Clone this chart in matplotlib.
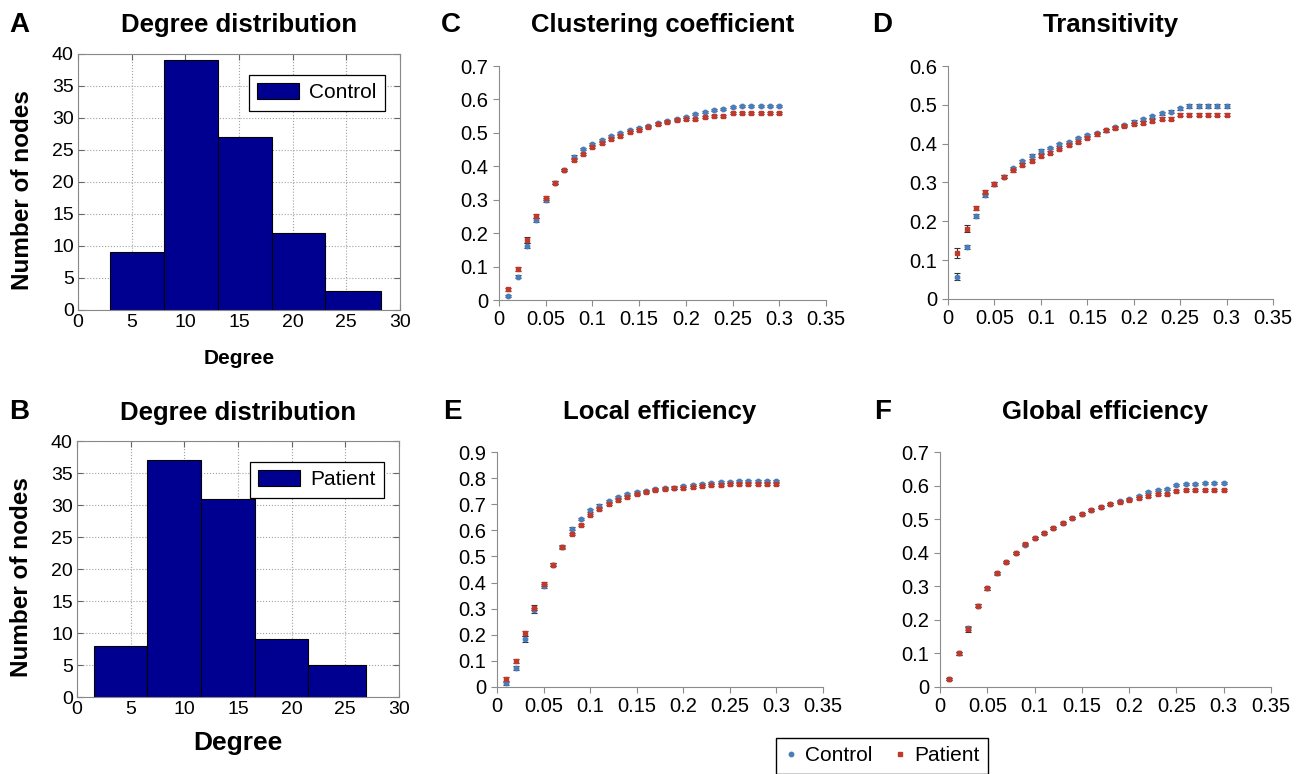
import numpy as np
import matplotlib
matplotlib.use("Agg")
import matplotlib.pyplot as plt
from matplotlib.ticker import FuncFormatter, MultipleLocator
from matplotlib.lines import Line2D

plt.rcParams['font.family'] = ['Liberation Sans', 'DejaVu Sans']

# ヒストグラム（次数分布）
ctrl_edges = [3.0, 8.05, 13.05, 18.05, 23.05, 28.2]
ctrl_counts = [9, 39, 27, 12, 3]
pat_edges = [1.55, 6.55, 11.55, 16.6, 21.55, 26.9]
pat_counts = [8, 37, 31, 9, 5]

# 閾値（スパース度）
thr = [0.01, 0.02, 0.03, 0.04, 0.05, 0.06, 0.07, 0.08, 0.09, 0.10,
       0.11, 0.12, 0.13, 0.14, 0.15, 0.16, 0.17, 0.18, 0.19, 0.20,
       0.21, 0.22, 0.23, 0.24, 0.25, 0.26, 0.27, 0.28, 0.29, 0.30]

# C: Clustering coefficient
clus_ctrl = [0.012, 0.070, 0.163, 0.239, 0.299, 0.351, 0.389, 0.429, 0.452, 0.467,
             0.479, 0.491, 0.500, 0.510, 0.516, 0.522, 0.528, 0.535, 0.542, 0.548,
             0.556, 0.563, 0.568, 0.571, 0.576, 0.579, 0.579, 0.580, 0.580, 0.580]
clus_pat = [0.032, 0.092, 0.179, 0.251, 0.305, 0.351, 0.389, 0.419, 0.436, 0.457,
            0.471, 0.483, 0.491, 0.502, 0.510, 0.518, 0.526, 0.533, 0.538, 0.540,
            0.542, 0.548, 0.550, 0.550, 0.560, 0.560, 0.560, 0.560, 0.560, 0.560]
clus_ctrl_err = [0.004, 0.005, 0.007, 0.006, 0.005, 0.004, 0.004, 0.004, 0.003, 0.003,
                 0.003, 0.003, 0.003, 0.003, 0.003, 0.003, 0.003, 0.003, 0.003, 0.003,
                 0.003, 0.003, 0.003, 0.003, 0.003, 0.003, 0.003, 0.003, 0.003, 0.003]
clus_pat_err = [0.005, 0.006, 0.009, 0.006, 0.005, 0.004, 0.004, 0.004, 0.003, 0.003,
                0.003, 0.003, 0.003, 0.003, 0.003, 0.003, 0.003, 0.003, 0.003, 0.003,
                0.003, 0.003, 0.003, 0.003, 0.003, 0.003, 0.003, 0.003, 0.003, 0.003]

# D: Transitivity
trans_ctrl = [0.057, 0.134, 0.214, 0.267, 0.296, 0.315, 0.337, 0.355, 0.369, 0.381,
              0.389, 0.398, 0.405, 0.415, 0.422, 0.427, 0.434, 0.442, 0.448, 0.457,
              0.463, 0.470, 0.478, 0.482, 0.491, 0.497, 0.497, 0.497, 0.497, 0.497]
trans_pat = [0.118, 0.181, 0.234, 0.275, 0.296, 0.315, 0.332, 0.346, 0.356, 0.369,
             0.377, 0.386, 0.397, 0.405, 0.414, 0.424, 0.434, 0.440, 0.446, 0.450,
             0.454, 0.459, 0.464, 0.464, 0.474, 0.475, 0.475, 0.475, 0.475, 0.475]
trans_ctrl_err = [0.009, 0.006, 0.006, 0.005, 0.005, 0.004, 0.004, 0.004, 0.004, 0.004,
                  0.003, 0.003, 0.003, 0.003, 0.003, 0.003, 0.003, 0.003, 0.003, 0.003,
                  0.004, 0.004, 0.004, 0.004, 0.004, 0.004, 0.004, 0.004, 0.004, 0.004]
trans_pat_err = [0.013, 0.009, 0.006, 0.005, 0.005, 0.004, 0.004, 0.004, 0.004, 0.004,
                 0.003, 0.003, 0.003, 0.003, 0.003, 0.003, 0.003, 0.003, 0.003, 0.003,
                 0.004, 0.004, 0.004, 0.004, 0.004, 0.004, 0.004, 0.004, 0.004, 0.004]

# E: Local efficiency
loc_ctrl = [0.015, 0.074, 0.184, 0.294, 0.388, 0.469, 0.538, 0.606, 0.645, 0.676,
            0.695, 0.713, 0.727, 0.738, 0.745, 0.752, 0.757, 0.761, 0.764, 0.770,
            0.773, 0.777, 0.781, 0.784, 0.786, 0.789, 0.789, 0.789, 0.789, 0.789]
loc_pat = [0.031, 0.100, 0.205, 0.303, 0.393, 0.469, 0.535, 0.586, 0.622, 0.657,
           0.681, 0.702, 0.716, 0.729, 0.739, 0.748, 0.754, 0.758, 0.762, 0.763,
           0.766, 0.770, 0.772, 0.773, 0.778, 0.778, 0.778, 0.778, 0.778, 0.778]
loc_ctrl_err = [0.006, 0.007, 0.010, 0.009, 0.008, 0.006, 0.005, 0.005, 0.004, 0.004,
                0.004, 0.004, 0.004, 0.004, 0.004, 0.004, 0.004, 0.004, 0.004, 0.004,
                0.004, 0.004, 0.004, 0.004, 0.004, 0.004, 0.004, 0.004, 0.004, 0.004]
loc_pat_err = [0.008, 0.008, 0.011, 0.010, 0.008, 0.006, 0.005, 0.005, 0.004, 0.004,
               0.004, 0.004, 0.004, 0.004, 0.004, 0.004, 0.004, 0.004, 0.004, 0.004,
               0.004, 0.004, 0.004, 0.004, 0.004, 0.004, 0.004, 0.004, 0.004, 0.004]

# F: Global efficiency
glob_ctrl = [0.023, 0.100, 0.177, 0.242, 0.294, 0.340, 0.373, 0.399, 0.422, 0.443,
             0.460, 0.475, 0.489, 0.502, 0.514, 0.526, 0.536, 0.544, 0.554, 0.561,
             0.568, 0.580, 0.586, 0.591, 0.603, 0.606, 0.606, 0.607, 0.607, 0.607]
glob_pat = [0.023, 0.100, 0.172, 0.242, 0.294, 0.339, 0.373, 0.399, 0.426, 0.443,
            0.460, 0.475, 0.489, 0.502, 0.514, 0.526, 0.536, 0.544, 0.552, 0.558,
            0.563, 0.568, 0.576, 0.576, 0.584, 0.586, 0.586, 0.586, 0.586, 0.586]
glob_ctrl_err = [0.003, 0.004, 0.006, 0.005, 0.004, 0.004, 0.003, 0.003, 0.003, 0.003,
                 0.003, 0.003, 0.003, 0.003, 0.003, 0.003, 0.003, 0.003, 0.003, 0.003,
                 0.003, 0.003, 0.003, 0.003, 0.003, 0.003, 0.003, 0.003, 0.003, 0.003]
glob_pat_err = [0.003, 0.004, 0.007, 0.005, 0.004, 0.004, 0.003, 0.003, 0.003, 0.003,
                0.003, 0.003, 0.003, 0.003, 0.003, 0.003, 0.003, 0.003, 0.003, 0.003,
                0.003, 0.003, 0.003, 0.003, 0.003, 0.003, 0.003, 0.003, 0.003, 0.003]

BAR_COLOR = '#000090'
BLUE = '#4a7ebb'
RED = '#c0392b'
AX_GRAY = '#8c8c8c'

W, H = 1304, 774
fig = plt.figure(figsize=(W / 100, H / 100), dpi=100)


def px_axes(left, top, right, bottom):
    """ピクセル座標から axes を作成"""
    return fig.add_axes([left / W, 1 - bottom / H, (right - left) / W, (bottom - top) / H])


def px_title(ax, text, y):
    """axes の中央にタイトルを配置（y はピクセル）"""
    bb = ax.get_position()
    fig.text((bb.x0 + bb.x1) / 2, 1 - y / H, text, fontsize=18.5, fontweight='bold',
             ha='center', va='center')


def hist_panel(ax, edges, counts, label, xlabel_size, xlabel_y):
    ax.bar(edges[:-1], counts, width=np.diff(edges), align='edge',
           color=BAR_COLOR, edgecolor='black', linewidth=0.8, label=label, zorder=2)
    ax.set_xlim(0, 30)
    ax.set_ylim(0, 40)
    ax.set_xticks(range(0, 31, 5))
    ax.set_yticks(range(0, 41, 5))
    ax.grid(True, linestyle=':', color='#a0a0a0', linewidth=0.8, zorder=0)
    ax.set_axisbelow(True)
    ax.tick_params(direction='in', labelsize=14, length=4, colors='#666666',
                   labelcolor='black', top=True, right=True, pad=3)
    for sp in ax.spines.values():
        sp.set_color('#888888')
    ax.set_ylabel('Number of nodes', fontsize=17.5, fontweight='bold', va='center')
    ax.yaxis.set_label_coords(-0.172, 0.47)
    ax.set_xlabel('Degree', fontsize=xlabel_size, fontweight='bold', va='center')
    ax.xaxis.set_label_coords(0.5, xlabel_y)
    leg = ax.legend(loc='upper right', fontsize=15, fancybox=False, framealpha=1,
                    edgecolor='black', handlelength=2.0, handleheight=0.8,
                    borderpad=0.4, handletextpad=0.5, bbox_to_anchor=(0.985, 0.96))
    leg.get_frame().set_linewidth(0.9)


def metric_panel(ax, ymax, ctrl, pat, ctrl_err, pat_err):
    ax.errorbar(thr, ctrl, yerr=ctrl_err, fmt='o', ms=3.2, color=BLUE,
                ecolor='#333333', elinewidth=0.8, capsize=2, capthick=0.8, zorder=3)
    ax.errorbar(thr, pat, yerr=pat_err, fmt='s', ms=3.0, color=RED,
                ecolor='#333333', elinewidth=0.8, capsize=2, capthick=0.8, zorder=3)
    ax.set_xlim(0, 0.35)
    ax.set_ylim(0, ymax)
    ax.xaxis.set_major_locator(MultipleLocator(0.05))
    ax.yaxis.set_major_locator(MultipleLocator(0.1))
    fmt = FuncFormatter(lambda v, p: f'{round(v, 2):g}')
    ax.xaxis.set_major_formatter(fmt)
    ax.yaxis.set_major_formatter(fmt)
    for s in ['top', 'right']:
        ax.spines[s].set_visible(False)
    for s in ['left', 'bottom']:
        ax.spines[s].set_color(AX_GRAY)
    ax.tick_params(direction='out', length=4, colors=AX_GRAY, labelcolor='black',
                   labelsize=14.5)


# A / B ヒストグラム
axA = px_axes(78, 54, 400, 310)
hist_panel(axA, ctrl_edges, ctrl_counts, 'Control', 15, -0.19)
px_title(axA, 'Degree distribution', 25)
axB = px_axes(77, 441, 399, 697)
hist_panel(axB, pat_edges, pat_counts, 'Patient', 19, -0.18)
px_title(axB, 'Degree distribution', 413)

# C-F 指標
axC = px_axes(499, 66, 826, 300)
metric_panel(axC, 0.7, clus_ctrl, clus_pat, clus_ctrl_err, clus_pat_err)
px_title(axC, 'Clustering coefficient', 25)
axD = px_axes(948, 66, 1273, 299)
metric_panel(axD, 0.6, trans_ctrl, trans_pat, trans_ctrl_err, trans_pat_err)
px_title(axD, 'Transitivity', 25)
axE = px_axes(497, 452, 823, 687)
metric_panel(axE, 0.9, loc_ctrl, loc_pat, loc_ctrl_err, loc_pat_err)
px_title(axE, 'Local efficiency', 412)
axF = px_axes(940, 452, 1271, 687)
metric_panel(axF, 0.7, glob_ctrl, glob_pat, glob_ctrl_err, glob_pat_err)
px_title(axF, 'Global efficiency', 412)

# パネル記号
for letter, x, y in [('A', 9, 25), ('B', 9, 412), ('C', 441, 25),
                     ('D', 872, 25), ('E', 443, 412), ('F', 874, 412)]:
    fig.text(x / W, 1 - y / H, letter, fontsize=20, fontweight='bold', va='center', ha='left')

# 下部の凡例
handles = [Line2D([], [], marker='o', ls='none', ms=3.2, color=BLUE),
           Line2D([], [], marker='s', ls='none', ms=3.0, color=RED)]
fig.legend(handles, ['Control', 'Patient'], loc='upper left', ncol=2,
           bbox_to_anchor=(776 / W, 1 - 738 / H), borderaxespad=0, fontsize=15,
           fancybox=False, edgecolor='black', framealpha=1, handlelength=0.6,
           handletextpad=0.4, columnspacing=1.0, borderpad=0.4)

fig.savefig('out.png', dpi=100)
